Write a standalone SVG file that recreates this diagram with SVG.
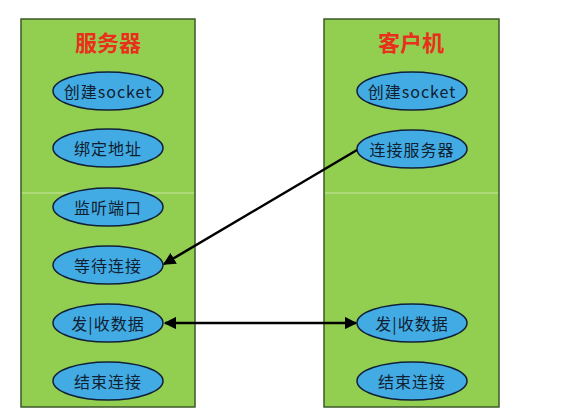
<svg xmlns="http://www.w3.org/2000/svg" width="571" height="419" viewBox="0 0 571 419">
<style>
.panel{fill:#92CF50;stroke:#3d5a28;stroke-width:1.5}
.sep{stroke:#c8e6a0;stroke-width:1}
.node{fill:#42ABE4;stroke:#10203a;stroke-width:1.5}
.lbl{font-family:"Noto Sans CJK SC","Liberation Sans",sans-serif;font-size:16px;letter-spacing:1px;fill:#102030;text-anchor:middle;dominant-baseline:central}
.title{font-family:"Noto Sans CJK SC",sans-serif;font-size:22px;font-weight:bold;fill:#E8301C;text-anchor:middle;dominant-baseline:central}
.conn{stroke:#000;stroke-width:2.5;fill:none}
</style>
<defs>
<marker id="ah" viewBox="0 0 10 10" refX="9" refY="5" markerWidth="5" markerHeight="5" orient="auto-start-reverse" markerUnits="strokeWidth">
<path d="M0,0 L10,5 L0,10 z" fill="#000"/>
</marker>
</defs>
<rect width="571" height="419" fill="#fff"/>
<g id="server">
<rect class="panel" x="21" y="19" width="174" height="388"/>
<line class="sep" x1="22" y1="193" x2="194" y2="193"/>
<text class="title" x="108" y="41">服务器</text>
</g>
<g id="client">
<rect class="panel" x="324" y="19" width="175" height="388"/>
<line class="sep" x1="325" y1="193" x2="498" y2="193"/>
<text class="title" x="411" y="41">客户机</text>
</g>
<g id="s1"><ellipse class="node" cx="108" cy="91" rx="55" ry="19"/><text class="lbl" x="108" y="91">创建socket</text></g>
<g id="s2"><ellipse class="node" cx="108" cy="148" rx="55" ry="19"/><text class="lbl" x="108" y="148">绑定地址</text></g>
<g id="s3"><ellipse class="node" cx="108" cy="207" rx="55" ry="19"/><text class="lbl" x="108" y="207">监听端口</text></g>
<g id="s4"><ellipse class="node" cx="108" cy="265" rx="55" ry="19"/><text class="lbl" x="108" y="265">等待连接</text></g>
<g id="s5"><ellipse class="node" cx="108" cy="323" rx="55" ry="19"/><text class="lbl" x="108" y="323">发|收数据</text></g>
<g id="s6"><ellipse class="node" cx="108" cy="381" rx="55" ry="19"/><text class="lbl" x="108" y="381">结束连接</text></g>
<g id="c1"><ellipse class="node" cx="412" cy="91" rx="55" ry="19"/><text class="lbl" x="412" y="91">创建socket</text></g>
<g id="c2"><ellipse class="node" cx="412" cy="149" rx="55" ry="19"/><text class="lbl" x="412" y="149">连接服务器</text></g>
<g id="c3"><ellipse class="node" cx="412" cy="323" rx="55" ry="19"/><text class="lbl" x="412" y="323">发|收数据</text></g>
<g id="c4"><ellipse class="node" cx="412" cy="381" rx="55" ry="19"/><text class="lbl" x="412" y="381">结束连接</text></g>
<g id="connectors">
<line class="conn" x1="357" y1="150" x2="164" y2="264" marker-end="url(#ah)"/>
<line class="conn" x1="165" y1="323" x2="356" y2="323" marker-start="url(#ah)" marker-end="url(#ah)"/>
</g>
</svg>
